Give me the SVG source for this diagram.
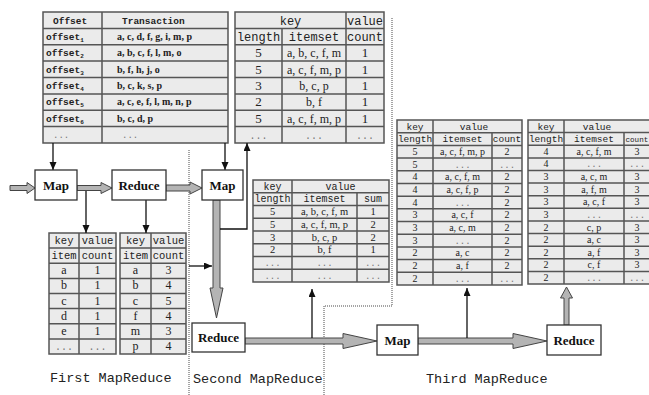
<svg xmlns="http://www.w3.org/2000/svg" width="649" height="395" viewBox="0 0 649 395">
<style>
.tb{fill:#ebebeb;stroke:#555;stroke-width:1.5}
.tl{fill:none;stroke:#555;stroke-width:1.5}
.mh{font-family:"Liberation Mono",monospace;fill:#222}
.sd{font-family:"Liberation Serif",serif;fill:#222}
.box{fill:#fff;stroke:#333;stroke-width:1.3}
.bt{font-family:"Liberation Serif",serif;font-weight:bold;font-size:13px;fill:#111;text-anchor:middle}
.fat{fill:#b4b4b4;stroke:#444;stroke-width:1}
.thin{fill:none;stroke:#111;stroke-width:1.3}
.dot{fill:none;stroke:#888;stroke-width:1.5;stroke-dasharray:1 1}
.lab{font-family:"Liberation Mono",monospace;font-size:13.5px;fill:#222}
.c{text-anchor:middle}
.g{fill:#777}
</style>
<defs>
<marker id="ah" markerUnits="userSpaceOnUse" markerWidth="8" markerHeight="8" refX="8" refY="3.5" orient="auto">
<path d="M0,0 L8,3.5 L0,7 z" fill="#111"/>
</marker>
</defs>

<!-- dotted separators -->
<g id="separators">
<path class="dot" d="M189,150 V395"/>
<path class="dot" d="M392,18 V306 H324 V395"/>
</g>

<!-- Table 1: transactions -->
<g id="table-transactions">
<rect class="tb" x="43" y="12" width="185" height="131"/>
<path class="tl" d="M43,28.4H228M43,44.8H228M43,61.1H228M43,77.5H228M43,93.9H228M43,110.3H228M43,126.6H228M102,12V143"/>
<g class="mh" font-size="9.5" font-weight="bold">
<text x="53" y="23.5">Offset</text>
<text x="122" y="23.5">Transaction</text>
<text x="46" y="39.9">offset<tspan font-size="6" dy="2">1</tspan></text>
<text x="46" y="56.3">offset<tspan font-size="6" dy="2">2</tspan></text>
<text x="46" y="72.6">offset<tspan font-size="6" dy="2">3</tspan></text>
<text x="46" y="89">offset<tspan font-size="6" dy="2">4</tspan></text>
<text x="46" y="105.4">offset<tspan font-size="6" dy="2">5</tspan></text>
<text x="46" y="121.8">offset<tspan font-size="6" dy="2">6</tspan></text>
</g>
<g class="sd" font-size="10" font-weight="bold">
<text x="117" y="39.9">a, c, d, f, g, i, m, p</text>
<text x="117" y="56.3">a, b, c, f, l, m, o</text>
<text x="117" y="72.6">b, f, h, j, o</text>
<text x="117" y="89">b, c, k, s, p</text>
<text x="117" y="105.4">a, c, e, f, l, m, n, p</text>
<text x="117" y="121.8">b, c, d, p</text>
</g>
<g class="mh g" font-size="9">
<text x="53" y="138.1">...</text>
<text x="122" y="138.1">...</text>
</g>
</g>

<!-- Table 2 -->
<g id="table-map2-out">
<rect class="tb" x="235" y="12" width="149" height="131"/>
<path class="tl" d="M235,28.4H384M235,44.8H384M235,61.1H384M235,77.5H384M235,93.9H384M235,110.3H384M235,126.6H384M282,28.4V143M346,12V143"/>
<g class="mh c" font-size="12">
<text x="290.5" y="24.5">key</text>
<text x="365" y="24.5">value</text>
<text x="258.5" y="40.9">length</text>
<text x="314" y="40.9">itemset</text>
<text x="365" y="40.9">count</text>
</g>
<g class="sd c" font-size="13">
<text x="258.5" y="57.3">5</text><text x="365" y="57.3">1</text>
<text x="258.5" y="73.6">5</text><text x="365" y="73.6">1</text>
<text x="258.5" y="90">3</text><text x="365" y="90">1</text>
<text x="258.5" y="106.4">2</text><text x="365" y="106.4">1</text>
<text x="258.5" y="122.8">5</text><text x="365" y="122.8">1</text>
</g>
<g class="sd c" font-size="12">
<text x="314" y="57.3">a, b, c, f, m</text>
<text x="314" y="73.6">a, c, f, m, p</text>
<text x="314" y="90">b, c, p</text>
<text x="314" y="106.4">b, f</text>
<text x="314" y="122.8">a, c, f, m, p</text>
</g>
<g class="mh c g" font-size="10">
<text x="258.5" y="139.1">...</text><text x="314" y="139.1">...</text><text x="365" y="139.1">...</text>
</g>
</g>

<!-- Table 3 -->
<g id="table-reduce2-out">
<rect class="tb" x="253" y="180" width="136" height="102"/>
<path class="tl" d="M253,192.75H389M253,205.5H389M253,218.25H389M253,231H389M253,243.75H389M253,256.5H389M253,269.25H389M292,180V282M357,192.75V282"/>
<g class="mh c" font-size="10">
<text x="272.5" y="189.5">key</text>
<text x="340.5" y="189.5">value</text>
<text x="272.5" y="202.25">length</text>
<text x="324.5" y="202.25">itemset</text>
<text x="373" y="202.25">sum</text>
</g>
<g class="sd c" font-size="10.5">
<text x="272.5" y="215">5</text><text x="324.5" y="215">a, b, c, f, m</text><text x="373" y="215">1</text>
<text x="272.5" y="227.75">5</text><text x="324.5" y="227.75">a, c, f, m, p</text><text x="373" y="227.75">2</text>
<text x="272.5" y="240.5">3</text><text x="324.5" y="240.5">b, c, p</text><text x="373" y="240.5">2</text>
<text x="272.5" y="253.25">2</text><text x="324.5" y="253.25">b, f</text><text x="373" y="253.25">1</text>
</g>
<g class="mh c g" font-size="9">
<text x="272.5" y="266">...</text><text x="324.5" y="266">...</text><text x="373" y="266">...</text>
<text x="272.5" y="278.75">...</text><text x="324.5" y="278.75">...</text><text x="373" y="278.75">...</text>
</g>
</g>

<!-- Table 4 -->
<g id="table-map1-out">
<rect class="tb" x="49" y="233" width="67" height="121"/>
<path class="tl" d="M49,248.1H116M49,263.25H116M49,278.4H116M49,293.5H116M49,308.6H116M49,323.75H116M49,338.9H116M79,233V354"/>
<g class="mh c" font-size="10.5">
<text x="64" y="244">key</text><text x="97.5" y="244">value</text>
<text x="64" y="259.1">item</text><text x="97.5" y="259.1">count</text>
</g>
<g class="sd c" font-size="12">
<text x="64" y="274.25">a</text><text x="97.5" y="274.25">1</text>
<text x="64" y="289.4">b</text><text x="97.5" y="289.4">1</text>
<text x="64" y="304.5">c</text><text x="97.5" y="304.5">1</text>
<text x="64" y="319.6">d</text><text x="97.5" y="319.6">1</text>
<text x="64" y="334.75">e</text><text x="97.5" y="334.75">1</text>
</g>
<g class="mh c g" font-size="10">
<text x="64" y="349.9">...</text><text x="97.5" y="349.9">...</text>
</g>
</g>

<!-- Table 5 -->
<g id="table-reduce1-out">
<rect class="tb" x="120" y="233" width="66" height="121"/>
<path class="tl" d="M120,248.1H186M120,263.25H186M120,278.4H186M120,293.5H186M120,308.6H186M120,323.75H186M120,338.9H186M151,233V354"/>
<g class="mh c" font-size="10.5">
<text x="135.5" y="244">key</text><text x="168.5" y="244">value</text>
<text x="135.5" y="259.1">item</text><text x="168.5" y="259.1">count</text>
</g>
<g class="sd c" font-size="12">
<text x="135.5" y="274.25">a</text><text x="168.5" y="274.25">3</text>
<text x="135.5" y="289.4">b</text><text x="168.5" y="289.4">4</text>
<text x="135.5" y="304.5">c</text><text x="168.5" y="304.5">5</text>
<text x="135.5" y="319.6">f</text><text x="168.5" y="319.6">4</text>
<text x="135.5" y="334.75">m</text><text x="168.5" y="334.75">3</text>
<text x="135.5" y="349.9">p</text><text x="168.5" y="349.9">4</text>
</g>
</g>

<!-- Table 6 -->
<g id="table-map3-out">
<rect class="tb" x="397" y="120" width="125" height="165"/>
<path class="tl" d="M397,132.7H522M397,145.4H522M397,158.1H522M397,170.8H522M397,183.5H522M397,196.2H522M397,208.8H522M397,221.5H522M397,234.2H522M397,246.9H522M397,259.6H522M397,272.3H522M433,120V285M492,132.7V285"/>
<g class="mh c" font-size="9.5">
<text x="415" y="129.5">key</text><text x="474" y="129.5">value</text>
<text x="415" y="142.2">length</text><text x="462.5" y="142.2">itemset</text><text x="507" y="142.2">count</text>
</g>
<g class="sd c" font-size="10">
<text x="415" y="154.9">5</text><text x="462.5" y="154.9">a, c, f, m, p</text><text x="507" y="154.9">2</text>
<text x="415" y="167.6">5</text>
<text x="415" y="180.3">4</text><text x="462.5" y="180.3">a, c, f, m</text><text x="507" y="180.3">2</text>
<text x="415" y="193">4</text><text x="462.5" y="193">a, c, f, p</text><text x="507" y="193">2</text>
<text x="415" y="205.7">4</text><text x="507" y="205.7">2</text>
<text x="415" y="218.3">3</text><text x="462.5" y="218.3">a, c, f</text><text x="507" y="218.3">2</text>
<text x="415" y="231">3</text><text x="462.5" y="231">a, c, m</text><text x="507" y="231">2</text>
<text x="415" y="243.7">3</text><text x="507" y="243.7">2</text>
<text x="415" y="256.4">2</text><text x="462.5" y="256.4">a, c</text><text x="507" y="256.4">2</text>
<text x="415" y="269.1">2</text><text x="462.5" y="269.1">a, f</text><text x="507" y="269.1">2</text>
<text x="415" y="281.8">2</text>
</g>
<g class="mh c g" font-size="9">
<text x="462.5" y="167.6">...</text><text x="507" y="167.6">...</text>
<text x="462.5" y="205.7">...</text>
<text x="462.5" y="243.7">...</text>
<text x="462.5" y="281.8">...</text><text x="507" y="281.8">...</text>
</g>
</g>

<!-- Table 7 -->
<g id="table-reduce3-out">
<rect class="tb" x="528" y="120" width="132" height="164"/>
<path class="tl" d="M528,132.6H660M528,145.2H660M528,157.9H660M528,170.5H660M528,183.1H660M528,195.7H660M528,208.3H660M528,221H660M528,233.6H660M528,246.2H660M528,258.8H660M528,271.4H660M564,120V284M624,132.6V284"/>
<g class="mh c" font-size="9.5">
<text x="546" y="129.5">key</text><text x="597" y="129.5">value</text>
<text x="546" y="142.1">length</text><text x="594" y="142.1">itemset</text>
</g>
<text class="mh" font-size="7.6" x="625.5" y="141.6">count</text>
<g class="sd c" font-size="10">
<text x="546" y="154.7">4</text><text x="594" y="154.7">a, c, f, m</text><text x="637" y="154.7">3</text>
<text x="546" y="167.4">4</text>
<text x="546" y="180">3</text><text x="594" y="180">a, c, m</text><text x="637" y="180">3</text>
<text x="546" y="192.6">3</text><text x="594" y="192.6">a, f, m</text><text x="637" y="192.6">3</text>
<text x="546" y="205.2">3</text><text x="594" y="205.2">a, c, f</text><text x="637" y="205.2">3</text>
<text x="546" y="217.8">3</text>
<text x="546" y="230.5">2</text><text x="594" y="230.5">c, p</text><text x="637" y="230.5">3</text>
<text x="546" y="243.1">2</text><text x="594" y="243.1">a, c</text><text x="637" y="243.1">3</text>
<text x="546" y="255.7">2</text><text x="594" y="255.7">a, f</text><text x="637" y="255.7">3</text>
<text x="546" y="268.3">2</text><text x="594" y="268.3">c, f</text><text x="637" y="268.3">3</text>
<text x="546" y="280.9">2</text>
</g>
<g class="mh c g" font-size="9">
<text x="594" y="167.4">...</text><text x="637" y="167.4">...</text>
<text x="594" y="217.8">...</text><text x="637" y="217.8">...</text>
<text x="594" y="280.9">...</text><text x="637" y="280.9">...</text>
</g>
</g>

<!-- connectors -->
<g id="connectors">
<polygon class="fat" points="10,185.5 27,185.5 27,182.5 35,188 27,193.5 27,190.5 10,190.5"/>
<polygon class="fat" points="77,185.5 101,185.5 101,182.5 112,188 101,193.5 101,190.5 77,190.5"/>
<polygon class="fat" points="166,185 190,185 190,182 202,188 190,194 190,191 166,191"/>
<polygon class="fat" points="213,200 220,200 220,288 223,288 216.5,318 210,288 213,288"/>
<polygon class="fat" points="245,338 343,338 343,333.5 377,341 343,348.5 343,344 245,344"/>
<polygon class="fat" points="418,338 513,338 513,333.5 547,341 513,348.5 513,344 418,344"/>
<polygon class="fat" points="564,325 564,298 560.5,298 566.5,287 572.5,298 569,298 569,325"/>
<path class="thin" marker-end="url(#ah)" d="M53,143V170"/>
<path class="thin" marker-end="url(#ah)" d="M225,143V170"/>
<path class="thin" marker-end="url(#ah)" d="M86,191V233"/>
<path class="thin" marker-end="url(#ah)" d="M146,200V233"/>
<path class="thin" marker-end="url(#ah)" d="M189,266H212"/>
<path class="thin" marker-end="url(#ah)" d="M220,229H247V143"/>
<path class="thin" marker-end="url(#ah)" d="M312,338V289"/>
<path class="thin" marker-end="url(#ah)" d="M467,338V288"/>
</g>

<!-- nodes -->
<g id="map1"><rect class="box" x="35" y="170" width="42" height="30"/><text class="bt" x="56" y="190">Map</text></g>
<g id="reduce1"><rect class="box" x="112" y="170" width="54" height="30"/><text class="bt" x="139" y="190">Reduce</text></g>
<g id="map2"><rect class="box" x="202" y="170" width="41" height="30"/><text class="bt" x="222.5" y="190">Map</text></g>
<g id="reduce2"><rect class="box" x="192" y="323" width="53" height="29"/><text class="bt" x="218.5" y="342">Reduce</text></g>
<g id="map3"><rect class="box" x="377" y="325" width="41" height="30"/><text class="bt" x="397.5" y="345">Map</text></g>
<g id="reduce3"><rect class="box" x="547" y="325" width="54" height="30"/><text class="bt" x="574" y="345">Reduce</text></g>

<!-- phase labels -->
<g id="labels">
<text class="lab" x="50" y="382">First MapReduce</text>
<text class="lab" x="193" y="383">Second MapReduce</text>
<text class="lab" x="426" y="383">Third MapReduce</text>
</g>
</svg>
